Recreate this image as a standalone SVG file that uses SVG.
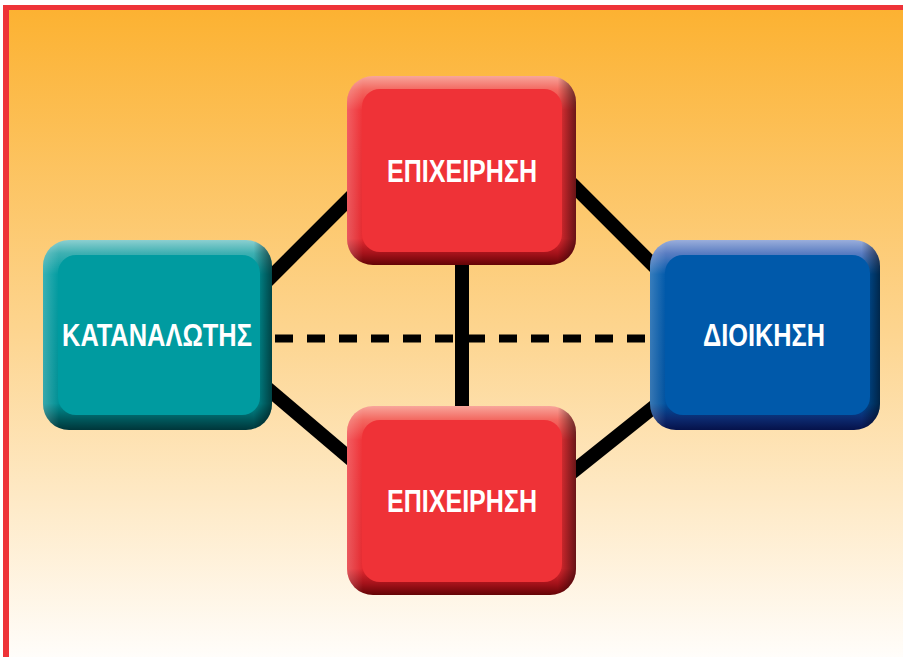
<svg xmlns="http://www.w3.org/2000/svg" width="903" height="657" viewBox="0 0 903 657">
<defs>
<linearGradient id="bg" x1="0" y1="0" x2="0" y2="1">
<stop offset="0" stop-color="#FCB232"/>
<stop offset="0.5" stop-color="#FDD590"/>
<stop offset="1" stop-color="#FFFDFA"/>
</linearGradient>
<linearGradient id="vRed" x1="0" y1="0" x2="0" y2="1">
<stop offset="0" stop-color="#F8A69B"/>
<stop offset="0.07" stop-color="#F36A62"/>
<stop offset="0.18" stop-color="#EF3237"/>
<stop offset="0.86" stop-color="#E42A30"/>
<stop offset="0.94" stop-color="#A3121A"/>
<stop offset="1" stop-color="#650406"/>
</linearGradient>
<linearGradient id="vTeal" x1="0" y1="0" x2="0" y2="1">
<stop offset="0" stop-color="#8CCFD0"/>
<stop offset="0.07" stop-color="#3EB0B2"/>
<stop offset="0.18" stop-color="#009BA0"/>
<stop offset="0.86" stop-color="#008F94"/>
<stop offset="0.94" stop-color="#005A5E"/>
<stop offset="1" stop-color="#00363A"/>
</linearGradient>
<linearGradient id="vBlue" x1="0" y1="0" x2="0" y2="1">
<stop offset="0" stop-color="#9AAEDB"/>
<stop offset="0.07" stop-color="#5A7DC2"/>
<stop offset="0.18" stop-color="#0059AA"/>
<stop offset="0.86" stop-color="#00519E"/>
<stop offset="0.94" stop-color="#0C2A70"/>
<stop offset="1" stop-color="#06124A"/>
</linearGradient>
<linearGradient id="hShade" x1="0" y1="0" x2="1" y2="0">
<stop offset="0" stop-color="#ffffff" stop-opacity="0.22"/>
<stop offset="0.07" stop-color="#ffffff" stop-opacity="0"/>
<stop offset="0.92" stop-color="#000000" stop-opacity="0"/>
<stop offset="0.97" stop-color="#000000" stop-opacity="0.35"/>
<stop offset="1" stop-color="#000000" stop-opacity="0.55"/>
</linearGradient>
<style>
.lbl{font-family:"Liberation Sans Narrow","Liberation Sans","DejaVu Sans",sans-serif;font-weight:bold;font-size:31px;fill:#ffffff;text-anchor:middle}
.con{stroke:#000000;stroke-width:14;fill:none}
.dash{stroke:#000000;stroke-width:8;stroke-dasharray:18 14;fill:none}
.shade{fill:url(#hShade)}
</style>
</defs>
<rect x="0" y="0" width="903" height="657" fill="#ffffff"/>
<rect x="3" y="5" width="900" height="652" fill="#EE3338"/>
<rect x="9" y="10" width="894" height="647" fill="url(#bg)"/>
<g id="connectors">
<line class="con" x1="260" y1="288" x2="360" y2="188"/>
<line class="con" x1="560" y1="172" x2="665" y2="277"/>
<line class="con" x1="260" y1="382" x2="360" y2="467"/>
<line class="con" x1="560" y1="482" x2="665" y2="398"/>
<line class="con" x1="462" y1="255" x2="462" y2="415"/>
<line class="dash" x1="275" y1="338.5" x2="648" y2="338.5"/>
</g>
<g id="node-top">
<rect x="347" y="76" width="229" height="189" rx="26" fill="url(#vRed)"/>
<rect x="347" y="76" width="229" height="189" rx="26" class="shade"/>
<rect x="362" y="89" width="200" height="163" rx="18" fill="#EF3237"/>
<text class="lbl" x="462" y="181.7" textLength="150" lengthAdjust="spacingAndGlyphs">ΕΠΙΧΕΙΡΗΣΗ</text>
</g>
<g id="node-bottom">
<rect x="347" y="406" width="229" height="189" rx="26" fill="url(#vRed)"/>
<rect x="347" y="406" width="229" height="189" rx="26" class="shade"/>
<rect x="362" y="420" width="200" height="162" rx="18" fill="#EF3237"/>
<text class="lbl" x="462" y="511.7" textLength="150" lengthAdjust="spacingAndGlyphs">ΕΠΙΧΕΙΡΗΣΗ</text>
</g>
<g id="node-left">
<rect x="43" y="240" width="229" height="190" rx="26" fill="url(#vTeal)"/>
<rect x="43" y="240" width="229" height="190" rx="26" class="shade"/>
<rect x="58" y="255" width="202" height="160" rx="18" fill="#009BA0"/>
<text class="lbl" x="157" y="346" textLength="190" lengthAdjust="spacingAndGlyphs">ΚΑΤΑΝΑΛΩΤΗΣ</text>
</g>
<g id="node-right">
<rect x="650" y="240" width="230" height="190" rx="26" fill="url(#vBlue)"/>
<rect x="650" y="240" width="230" height="190" rx="26" class="shade"/>
<rect x="665" y="255" width="205" height="160" rx="18" fill="#0059AA"/>
<text class="lbl" x="764" y="346" textLength="122" lengthAdjust="spacingAndGlyphs">ΔΙΟΙΚΗΣΗ</text>
</g>
</svg>
